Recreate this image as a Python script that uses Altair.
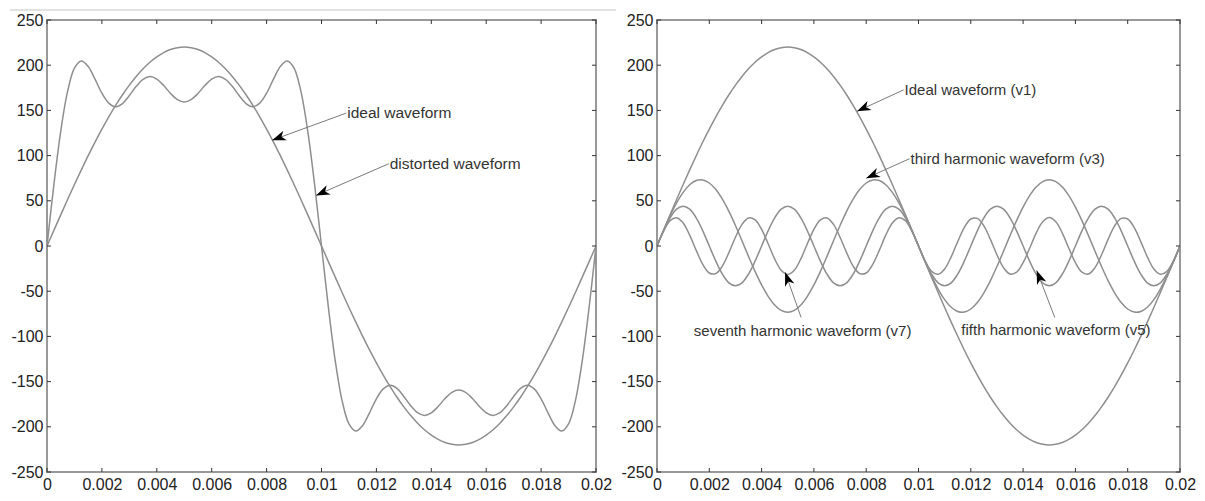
import math
import altair as alt
import pandas as pd

# ---------------- data ----------------
T_MS = [0, 0.25, 0.5, 0.75, 1, 1.25, 1.5, 1.75, 2, 2.25, 2.5, 2.75, 3, 3.25, 3.5, 3.75,
        4, 4.25, 4.5, 4.75, 5, 5.25, 5.5, 5.75, 6, 6.25, 6.5, 6.75, 7, 7.25, 7.5, 7.75,
        8, 8.25, 8.5, 8.75, 9, 9.25, 9.5, 9.75, 10, 10.25, 10.5, 10.75, 11, 11.25, 11.5, 11.75,
        12, 12.25, 12.5, 12.75, 13, 13.25, 13.5, 13.75, 14, 14.25, 14.5, 14.75, 15, 15.25, 15.5, 15.75,
        16, 16.25, 16.5, 16.75, 17, 17.25, 17.5, 17.75, 18, 18.25, 18.5, 18.75, 19, 19.25, 19.5, 19.75, 20]

V1 = [0, 17.3, 34.4, 51.4, 68.0, 84.2, 99.9, 115.0, 129.3, 142.9, 155.6, 167.3, 178.0, 187.6, 196.0, 203.3, 209.2, 213.9, 217.3, 219.3, 220.0,
      219.3, 217.3, 213.9, 209.2, 203.3, 196.0, 187.6, 178.0, 167.3, 155.6, 142.9, 129.3, 115.0, 99.9, 84.2, 68.0, 51.4, 34.4, 17.3, 0,
      -17.3, -34.4, -51.4, -68.0, -84.2, -99.9, -115.0, -129.3, -142.9, -155.6, -167.3, -178.0, -187.6, -196.0, -203.3, -209.2, -213.9, -217.3, -219.3, -220.0,
      -219.3, -217.3, -213.9, -209.2, -203.3, -196.0, -187.6, -178.0, -167.3, -155.6, -142.9, -129.3, -115.0, -99.9, -84.2, -68.0, -51.4, -34.4, -17.3, 0]

V3 = [0, 17.1, 33.3, 47.6, 59.3, 67.7, 72.4, 73.1, 69.7, 62.5, 51.8, 38.3, 22.7, 5.8, -11.5, -28.1, -43.1, -55.7, -65.3, -71.3, -73.3,
      -71.3, -65.3, -55.7, -43.1, -28.1, -11.5, 5.8, 22.7, 38.3, 51.8, 62.5, 69.7, 73.1, 72.4, 67.7, 59.3, 47.6, 33.3, 17.1, 0,
      -17.1, -33.3, -47.6, -59.3, -67.7, -72.4, -73.1, -69.7, -62.5, -51.8, -38.3, -22.7, -5.8, 11.5, 28.1, 43.1, 55.7, 65.3, 71.3, 73.3,
      71.3, 65.3, 55.7, 43.1, 28.1, 11.5, -5.8, -22.7, -38.3, -51.8, -62.5, -69.7, -73.1, -72.4, -67.7, -59.3, -47.6, -33.3, -17.1, 0]

V5 = [0, 16.8, 31.1, 40.7, 44.0, 40.7, 31.1, 16.8, 0, -16.8, -31.1, -40.7, -44.0, -40.7, -31.1, -16.8,
      0, 16.8, 31.1, 40.7, 44.0, 40.7, 31.1, 16.8, 0, -16.8, -31.1, -40.7, -44.0, -40.7, -31.1, -16.8,
      0, 16.8, 31.1, 40.7, 44.0, 40.7, 31.1, 16.8, 0, -16.8, -31.1, -40.7, -44.0, -40.7, -31.1, -16.8,
      0, 16.8, 31.1, 40.7, 44.0, 40.7, 31.1, 16.8, 0, -16.8, -31.1, -40.7, -44.0, -40.7, -31.1, -16.8,
      0, 16.8, 31.1, 40.7, 44.0, 40.7, 31.1, 16.8, 0, -16.8, -31.1, -40.7, -44.0, -40.7, -31.1, -16.8,
      0]

V7 = [0, 16.4, 28.0, 31.3, 25.4, 12.0, -4.9, -20.4, -29.9, -30.5, -22.2, -7.3, 9.7, 23.9, 31.0, 29.0, 18.5, 2.5, -14.3, -26.8, -31.4,
      -26.8, -14.3, 2.5, 18.5, 29.0, 31.0, 23.9, 9.7, -7.3, -22.2, -30.5, -29.9, -20.4, -4.9, 12.0, 25.4, 31.3, 28.0, 16.4, 0,
      -16.4, -28.0, -31.3, -25.4, -12.0, 4.9, 20.4, 29.9, 30.5, 22.2, 7.3, -9.7, -23.9, -31.0, -29.0, -18.5, -2.5, 14.3, 26.8, 31.4,
      26.8, 14.3, -2.5, -18.5, -29.0, -31.0, -23.9, -9.7, 7.3, 22.2, 30.5, 29.9, 20.4, 4.9, -12.0, -25.4, -31.3, -28.0, -16.4, 0]

DISTORTED = [0, 67.6, 126.8, 171.0, 196.7, 204.6, 198.5, 184.5, 169.1, 158.1, 154.1, 157.6, 166.4, 176.6, 184.4, 187.4, 184.6, 177.5, 168.8, 161.9, 159.3,
             161.9, 168.8, 177.5, 184.6, 187.4, 184.4, 176.6, 166.4, 157.6, 154.1, 158.1, 169.1, 184.5, 198.5, 204.6, 196.7, 171.0, 126.8, 67.6, 0,
             -67.6, -126.8, -171.0, -196.7, -204.6, -198.5, -184.5, -169.1, -158.1, -154.1, -157.6, -166.4, -176.6, -184.4, -187.4, -184.6, -177.5, -168.8, -161.9, -159.3,
             -161.9, -168.8, -177.5, -184.6, -187.4, -184.4, -176.6, -166.4, -157.6, -154.1, -158.1, -169.1, -184.5, -198.5, -204.6, -196.7, -171.0, -126.8, -67.6, 0]

XTICKS = [0, 0.002, 0.004, 0.006, 0.008, 0.01, 0.012, 0.014, 0.016, 0.018, 0.02]
YTICKS = [-250, -200, -150, -100, -50, 0, 50, 100, 150, 200, 250]

LEFT_LABELS = ["ideal waveform", "distorted waveform"]
LEFT_TEXT_X = [0.0109, 0.01245]
LEFT_TEXT_Y = [147, 91]
LEFT_TIP_X = [0.0082, 0.0098]
LEFT_TIP_Y = [117, 56]

RIGHT_LABELS = ["Ideal waveform (v1)", "third harmonic waveform (v3)",
                "seventh harmonic waveform (v7)", "fifth harmonic waveform (v5)"]
RIGHT_TEXT_X = [0.00943, 0.00966, 0.00137, 0.0116]
RIGHT_TEXT_Y = [172.7, 96.6, -94.4, -93.3]
RIGHT_START_X = [0.00943, 0.00966, 0.00551, 0.01521]
RIGHT_START_Y = [172.7, 96.6, -79, -79]
RIGHT_TIP_X = [0.00765, 0.0080, 0.0049, 0.01452]
RIGHT_TIP_Y = [149, 75, -29, -27]

# ---------------- styling ----------------
FONT = "Liberation Sans"
LINE = "#8e8e8e"
TICK = "#333333"
TICK_LEN = 4
LW, RW, H = 549, 523, 452
HEAD = "M0,0L-1,-0.36L-0.72,0L-1,0.36Z"
HEAD_SIZE = 760

XS = alt.Scale(domain=[0, 0.02], nice=False, zero=False)
YS = alt.Scale(domain=[-250, 250], nice=False, zero=False)

X_AXIS = alt.Axis(values=XTICKS, labelExpr="'' + datum.value", domain=False, ticks=False,
                  grid=False, title=None, labelFontSize=16, labelFont=FONT,
                  labelColor="#222222", labelPadding=4, labelFlush=False, labelOverlap=False)
Y_AXIS = alt.Axis(values=YTICKS, labelExpr="'' + datum.value", domain=False, ticks=False,
                  grid=False, title=None, labelFontSize=16, labelFont=FONT,
                  labelColor="#222222", labelPadding=4, labelFlush=False, labelOverlap=False)

t_sec = [ms / 1000 for ms in T_MS]


def long_df(series):
    rows = []
    for name, vals in series.items():
        for t, v in zip(t_sec, vals):
            rows.append({"t": t, "v": v, "series": name})
    return pd.DataFrame(rows)


def ann_df(labels, tx, ty, sx, sy, ex, ey, w, h):
    kx, ky = w / 0.02, h / 500.0
    ang = []
    for a, b, c, d in zip(sx, sy, ex, ey):
        deg = math.degrees(math.atan2(-(d - b) * ky, (c - a) * kx)) % 360
        ang.append(deg)
    return pd.DataFrame({"label": labels, "tx": tx, "ty": ty, "x0": sx, "y0": sy,
                         "x1": ex, "y1": ey, "angle": ang})


def X(field):
    return alt.X(field, type="quantitative", scale=XS, axis=X_AXIS)


def Y(field):
    return alt.Y(field, type="quantitative", scale=YS, axis=Y_AXIS)


def panel(df, ann, w, h, fsize, artifact=False):
    lines = alt.Chart(df).mark_line(interpolate="catmull-rom", color=LINE, strokeWidth=1.5).encode(
        x=X("t"), y=Y("v"), detail="series:N")
    xt = pd.DataFrame({"t": XTICKS})
    yt = pd.DataFrame({"v": YTICKS})
    tt = alt.Chart(xt).mark_rule(color=TICK, strokeWidth=1).encode(
        x=X("t"), y=alt.value(0), y2=alt.value(TICK_LEN))
    tb = alt.Chart(xt).mark_rule(color=TICK, strokeWidth=1).encode(
        x=X("t"), y=alt.value(h), y2=alt.value(h - TICK_LEN))
    tl = alt.Chart(yt).mark_rule(color=TICK, strokeWidth=1).encode(
        y=Y("v"), x=alt.value(0), x2=alt.value(TICK_LEN))
    tr = alt.Chart(yt).mark_rule(color=TICK, strokeWidth=1).encode(
        y=Y("v"), x=alt.value(w), x2=alt.value(w - TICK_LEN))
    leader = alt.Chart(ann).mark_rule(color="#7a7a7a", strokeWidth=1).encode(
        x=X("x0"), y=Y("y0"), x2="x1:Q", y2="y1:Q")
    heads = alt.Chart(ann).mark_point(shape=HEAD, filled=True, color="#000000", size=HEAD_SIZE,
                                      opacity=1, strokeWidth=0).encode(
        x=X("x1"), y=Y("y1"), angle=alt.Angle("angle:Q", scale=None))
    texts = alt.Chart(ann).mark_text(align="left", baseline="middle", fontSize=fsize, font=FONT,
                                     color="#333333", dx=1).encode(
        x=X("tx"), y=Y("ty"), text="label:N")
    layers = [lines, tt, tb, tl, tr, leader, heads, texts]
    if artifact:
        art = alt.Chart(pd.DataFrame({"a": [0]})).mark_rule(color="#c4c4c4", strokeWidth=1).encode(
            x=alt.value(-37), x2=alt.value(569), y=alt.value(-10))
        layers.append(art)
    return alt.layer(*layers).properties(width=w, height=h)


left_df = long_df({"ideal": V1, "distorted": DISTORTED})
right_df = long_df({"v1": V1, "v3": V3, "v5": V5, "v7": V7})

left_ann = ann_df(LEFT_LABELS, LEFT_TEXT_X, LEFT_TEXT_Y, LEFT_TEXT_X, LEFT_TEXT_Y,
                  LEFT_TIP_X, LEFT_TIP_Y, LW, H)
right_ann = ann_df(RIGHT_LABELS, RIGHT_TEXT_X, RIGHT_TEXT_Y, RIGHT_START_X, RIGHT_START_Y,
                   RIGHT_TIP_X, RIGHT_TIP_Y, RW, H)

left = panel(left_df, left_ann, LW, H, 15.5, artifact=True)
right = panel(right_df, right_ann, RW, H, 15)

chart = alt.hconcat(left, right, spacing=61, bounds="flush").properties(
    padding={"left": 0, "top": 0, "right": 0, "bottom": 0},
    background="white",
).configure_view(stroke="#999999", strokeWidth=2)

chart.save("out.html", embed_options={"renderer": "svg", "actions": False})
